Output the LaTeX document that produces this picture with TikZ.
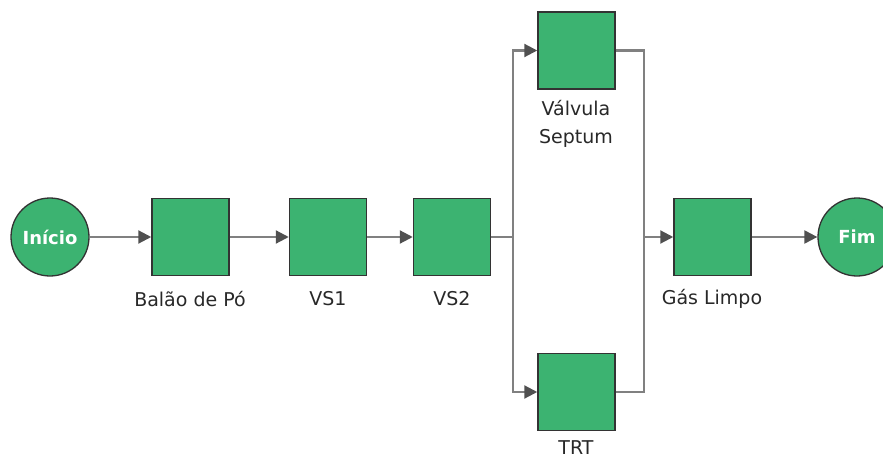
\documentclass[tikz,border=0pt]{standalone}
\usepackage{fontspec}
\setmainfont{DejaVu Sans}
\usetikzlibrary{arrows.meta}
\definecolor{boxgreen}{RGB}{60,179,113}
\definecolor{edgegray}{RGB}{51,51,51}
\definecolor{linegray}{RGB}{128,128,128}
\definecolor{tipgray}{RGB}{80,80,80}
\definecolor{txtgray}{RGB}{40,40,40}
\tikzset{
  stepbox/.style={draw=edgegray, line width=1.5pt, fill=boxgreen, minimum width=77pt, minimum height=77pt, inner sep=0pt},
  endpt/.style={circle, draw=edgegray, line width=1.3pt, fill=boxgreen, minimum size=78pt, inner sep=0pt, text=white, font=\fontsize{18}{21}\selectfont\bfseries},
  lbl/.style={text=txtgray, font=\fontsize{19}{28}\selectfont, align=center, inner sep=0pt},
  conn/.style={draw=linegray, line width=2.2pt, -{Triangle[length=13pt,width=13pt,fill=tipgray,color=tipgray]}},
  plain/.style={draw=linegray, line width=2.2pt}
}
\begin{document}
\begin{tikzpicture}[x=1pt,y=-1pt]
\useasboundingbox (0,0) rectangle (883,460);
\begin{scope}
\clip (0,0) rectangle (883,460);
\node[endpt] (ini) at (50,237) {Início};
\node[stepbox] (bal) at (190.5,237) {};
\node[stepbox] (vs1) at (328,237) {};
\node[stepbox] (vs2) at (452,237) {};
\node[stepbox] (val) at (576.5,50.5) {};
\node[stepbox] (trt) at (576.5,392) {};
\node[stepbox] (gas) at (712.5,237) {};
\node[endpt] (fim) at (857,237) {Fim};
\coordinate (split) at (513,237);
\coordinate (merge) at (644,237);

\node[lbl] (lbal) at (190,299) {Balão de Pó};
\node[lbl] (lvs1) at (328,299) {VS1};
\node[lbl] (lvs2) at (452,299) {VS2};
\node[lbl] (lval) at (576,124) {Válvula\\Septum};
\node[lbl] (ltrt) at (576,448) {TRT};
\node[lbl] (lgas) at (712,299) {Gás Limpo};

\draw[conn] (ini) -- (bal);
\draw[conn] (bal) -- (vs1);
\draw[conn] (vs1) -- (vs2);
\draw[plain] (vs2.east) -- (split);
\draw[conn] (split) |- (val.west);
\draw[conn] (split) |- (trt.west);
\draw[plain] (val.east) -| (merge);
\draw[plain] (trt.east) -| (merge);
\draw[conn] (merge) -- (gas.west);
\draw[conn] (gas) -- (fim);
\end{scope}
\end{tikzpicture}
\end{document}
